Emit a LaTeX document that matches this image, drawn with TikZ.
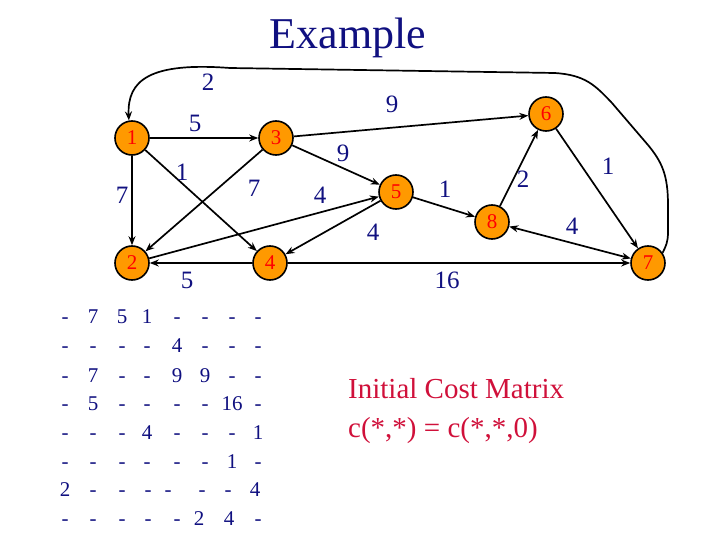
\documentclass[tikz,border=0pt]{standalone}
\usepackage{fontspec}
\setmainfont{Liberation Serif}
\usetikzlibrary{arrows.meta}
\definecolor{navyc}{RGB}{16,16,128}
\definecolor{nodeor}{RGB}{255,153,0}
\definecolor{crim}{RGB}{208,16,58}
\begin{document}
\begin{tikzpicture}[x=1pt,y=-1pt,
  vert/.style={circle,draw=black,line width=1.6pt,fill=nodeor,minimum size=34pt,inner sep=0pt,
    text=red,font=\fontsize{21}{23}\selectfont},
  tip/.style={Stealth[length=9pt,width=7pt]},
  edge/.style={line width=1.7pt,-{Stealth[length=9pt,width=7pt]}},
  lab/.style={text=navyc,font=\fontsize{25}{28}\selectfont,inner sep=0pt},
  cell/.style={text=navyc,font=\fontsize{21}{24}\selectfont,inner sep=0pt,text height=14pt,text depth=1pt}]
\useasboundingbox (0,0) rectangle (720,540);
\node[text=navyc,font=\fontsize{44}{48}\selectfont] (title) at (348,38) {Example};
% vertices
\node[vert] (n1) at (132,138) {1};
\node[vert] (n3) at (276,138) {3};
\node[vert] (n2) at (132,263) {2};
\node[vert] (n4) at (270,263) {4};
\node[vert] (n5) at (396,192) {5};
\node[vert] (n6) at (546,114) {6};
\node[vert] (n8) at (492,222) {8};
\node[vert] (n7) at (648,263) {7};
% edges
\draw[edge] (n1) -- (n3);
\draw[edge] (n1) -- (n2);
\draw[edge] (n1) -- (n4);
\draw[edge] (n3) -- (n2);
\draw[edge] (n3) -- (n6);
\draw[edge] (n3) -- (n5);
\draw[edge] (n2) -- (n5);
\draw[edge] (n5) -- (n4);
\draw[edge] (n5) -- (n8);
\draw[edge] (n4) -- (n2);
\draw[edge] (n4) -- (n7);
\draw[edge] (n8) -- (n6);
\draw[edge] (n6) -- (n7);
\draw[line width=1.7pt,{Stealth[length=9pt,width=7pt]}-{Stealth[length=9pt,width=7pt]}] (n8) -- (n7);
\draw[edge] (n7.35) .. controls (666,246) and (668,242) .. (668,232) -- (668,205)
  .. controls (668,175) and (662,162) .. (648,145) -- (612,103)
  .. controls (595,85) and (585,75) .. (555,73) -- (230,68)
  .. controls (150,62) and (127,80) .. (n1.100);
% edge labels
\node[lab] (l71) at (208,82) {2};
\node[lab] (l13) at (195,123) {5};
\node[lab] (l12) at (122,195) {7};
\node[lab] (l14) at (182,172) {1};
\node[lab] (l32) at (254,188) {7};
\node[lab] (l36) at (392,104) {9};
\node[lab] (l35) at (343,153) {9};
\node[lab] (l25) at (320,195) {4};
\node[lab] (l54) at (373,232) {4};
\node[lab] (l58) at (445,189) {1};
\node[lab] (l86) at (523,179) {2};
\node[lab] (l67) at (608,166) {1};
\node[lab] (l87) at (572,226) {4};
\node[lab] (l47) at (447,280) {16};
\node[lab] (l42) at (187,280) {5};
% matrix
\foreach \y/\row [count=\r] in {317/{-,7,5,1,-,-,-,-},346/{-,-,-,-,4,-,-,-},376/{-,7,-,-,9,9,-,-},
  404/{-,5,-,-,-,-,16,-},433/{-,-,-,4,-,-,-,1},462/{-,-,-,-,-,-,1,-}}{
  \foreach \v [count=\c] in \row {
    \pgfmathsetmacro{\xx}{{65,93,122,147,177,205,232,258}[\c-1]}
    \node[cell] (m\r-\c) at (\xx,\y) {\v};
  }
}
\foreach \v/\xx [count=\c] in {2/65,-/93,-/122,-/148,-/168,-/202,-/228,4/255}{
  \node[cell] (m7-\c) at (\xx,490) {\v};
}
\foreach \v/\xx [count=\c] in {-/65,-/93,-/122,-/148,-/177,2/199,4/229,-/258}{
  \node[cell] (m8-\c) at (\xx,519) {\v};
}
\node[text=crim,font=\fontsize{29}{39}\selectfont,align=left,anchor=west,inner sep=0pt] (cap) at (348,411)
  {Initial Cost Matrix\\c(*,*) = c(*,*,0)};
\end{tikzpicture}
\end{document}
